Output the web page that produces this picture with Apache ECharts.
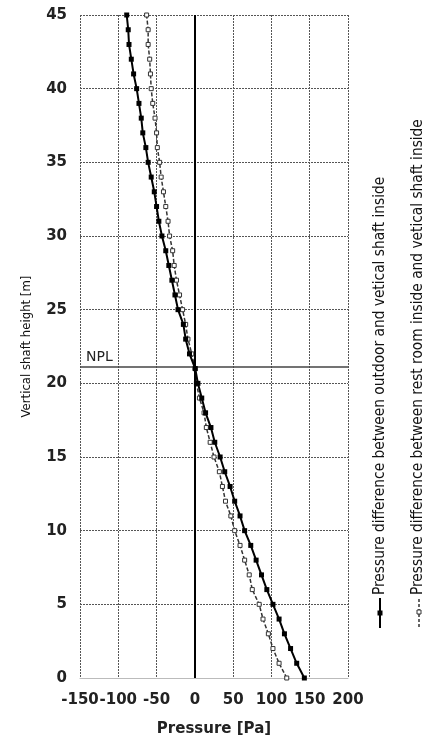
<!DOCTYPE html>
<html>
<head>
<meta charset="utf-8">
<script src="https://cdn.jsdelivr.net/npm/echarts@6/dist/echarts.min.js"></script>
<style>html,body{margin:0;padding:0;background:#fff;}#c{width:433px;height:738px;}</style>
</head>
<body>
<div id="c"></div>
<script>
var heights = [0,1,2,3,4,5,6,7,8,9,10,11,12,13,14,15,16,17,18,19,20,21,22,23,24,25,26,27,28,29,30,31,32,33,34,35,36,37,38,39,40,41,42,43,44,45];
var outdoorShaft = [143,133,125,117,110,102,94,87,80,73,65,59,52,46,39,33,26,21,14,9,4,0.5,-7,-12,-15,-22,-26,-30,-34,-38,-43,-47,-50,-53,-57,-61,-64,-68,-70,-73,-76,-80,-83,-86,-87,-89];
var restroomShaft = [120,110,102,96,89,84,75,71,65,59,52,47,40,36,32,25,20,15,12,6,2,0.2,-4,-9,-12,-16,-20,-24,-27,-29,-33,-35,-38,-41,-44,-46,-49,-50,-52,-55,-57,-58,-59,-61,-61,-63];
var xTicks = [-150,-100,-50,0,50,100,150,200];
var yTicks = [0,5,10,15,20,25,30,35,40,45];
var nplHeight = 21.1;
var seriesNames = ['Pressure difference between outdoor and vetical shaft inside',
                   'Pressure difference between rest room inside and vetical shaft inside'];

function pairs(vals){ return heights.map(function(h,i){ return [vals[i], h]; }); }

var narrow = "'Liberation Sans Narrow','DejaVu Sans Condensed','Roboto Condensed',sans-serif";
var chart = echarts.init(document.getElementById('c'));
chart.setOption({
  animation: false,
  grid: {left: 80, right: 85, top: 15, bottom: 60, containLabel: false, outerBoundsMode: 'none'},
  xAxis: {
    type: 'value', min: xTicks[0], max: xTicks[xTicks.length-1], interval: 50,
    name: 'Pressure [Pa]', nameLocation: 'middle', nameGap: 44,
    nameTextStyle: {fontFamily: 'DejaVu Sans', fontWeight: 'bold', fontSize: 15, color: '#222'},
    axisLine: {show: true, lineStyle: {color: '#bbb', width: 1}},
    axisTick: {show: false},
    axisLabel: {fontFamily: 'DejaVu Sans', fontWeight: 'bold', fontSize: 15, color: '#222', margin: 15},
    splitLine: {show: true, lineStyle: {color: '#555', type: [2,1], width: 1}}
  },
  yAxis: {
    type: 'value', min: yTicks[0], max: yTicks[yTicks.length-1], interval: 5,
    name: 'Vertical shaft height [m]', nameLocation: 'middle', nameGap: 47, nameRotate: 90,
    nameTextStyle: {fontFamily: narrow, fontSize: 13, color: '#111'},
    axisLine: {show: false},
    axisTick: {show: false},
    axisLabel: {fontFamily: 'DejaVu Sans', fontWeight: 'bold', fontSize: 15, color: '#222', margin: 13},
    splitLine: {show: true, lineStyle: {color: '#555', type: [2,1], width: 1}}
  },
  series: [
    {
      name: seriesNames[0], type: 'line', data: pairs(outdoorShaft),
      symbol: 'rect', symbolSize: 5,
      lineStyle: {color: '#000', width: 2},
      itemStyle: {color: '#000'},
      z: 5,
      markLine: {
        silent: true, symbol: 'none', animation: false,
        data: [
          {xAxis: 0, lineStyle: {color: '#000', width: 2, type: 'solid'}, label: {show: false}},
          {yAxis: nplHeight, lineStyle: {color: '#444', width: 1.5, type: 'solid'},
           label: {show: true, formatter: 'NPL', position: 'insideStartTop', distance: [6, 3],
                   fontFamily: 'DejaVu Sans', fontSize: 14, color: '#222'}}
        ]
      }
    },
    {
      name: seriesNames[1], type: 'line', data: pairs(restroomShaft),
      symbol: 'rect', symbolSize: 4,
      lineStyle: {color: '#333', width: 1.5, type: [4,2]},
      itemStyle: {color: '#fff', borderColor: '#333', borderWidth: 1},
      z: 4
    }
  ],
  graphic: [
    {type: 'line', shape: {x1: 380, y1: 598, x2: 380, y2: 628}, style: {stroke: '#000', lineWidth: 2}},
    {type: 'rect', shape: {x: 377.5, y: 610.5, width: 5, height: 5}, style: {fill: '#000'}},
    {type: 'text', x: 380, y: 595, rotation: Math.PI/2,
     style: {text: seriesNames[0], fontFamily: narrow, fontSize: 15.3, fill: '#111', align: 'left', verticalAlign: 'middle'}},
    {type: 'line', shape: {x1: 419, y1: 599, x2: 419, y2: 628}, style: {stroke: '#333', lineWidth: 1.5, lineDash: [3,2]}},
    {type: 'rect', shape: {x: 417, y: 610, width: 4, height: 4}, style: {fill: '#fff', stroke: '#333', lineWidth: 1}},
    {type: 'text', x: 418, y: 595, rotation: Math.PI/2,
     style: {text: seriesNames[1], fontFamily: narrow, fontSize: 15.3, fill: '#111', align: 'left', verticalAlign: 'middle'}}
  ]
});
</script>
</body>
</html>
